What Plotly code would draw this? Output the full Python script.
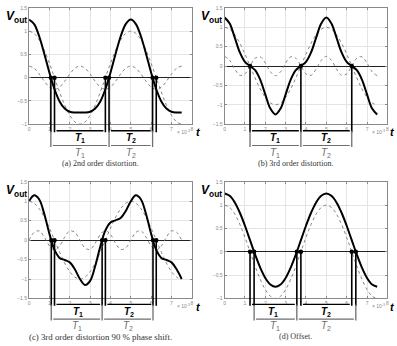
import plotly.graph_objects as go

W, H = 397, 346

# ---------------- data ----------------
t = [0.0, 0.25, 0.5, 0.75, 1.0, 1.25, 1.5, 1.75, 2.0, 2.25, 2.5, 2.75, 3.0, 3.25, 3.5, 3.75,
     4.0, 4.25, 4.5, 4.75, 5.0, 5.25, 5.5, 5.75, 6.0, 6.25, 6.5, 6.75, 7.0, 7.25, 7.5]

fund = [1.0, 0.951, 0.809, 0.588, 0.309, 0.0, -0.309, -0.588, -0.809, -0.951, -1.0, -0.951,
        -0.809, -0.588, -0.309, 0.0, 0.309, 0.588, 0.809, 0.951, 1.0, 0.951, 0.809, 0.588,
        0.309, 0.0, -0.309, -0.588, -0.809, -0.951, -1.0]

h2 = [0.25, 0.202, 0.077, -0.077, -0.202, -0.25, -0.202, -0.077, 0.077, 0.202, 0.25, 0.202,
      0.077, -0.077, -0.202, -0.25, -0.202, -0.077, 0.077, 0.202, 0.25, 0.202, 0.077, -0.077,
      -0.202, -0.25, -0.202, -0.077, 0.077, 0.202, 0.25]

h3 = [0.25, 0.147, -0.077, -0.238, -0.202, 0.0, 0.202, 0.238, 0.077, -0.147, -0.25, -0.147,
      0.077, 0.238, 0.202, 0.0, -0.202, -0.238, -0.077, 0.147, 0.25, 0.147, -0.077, -0.238,
      -0.202, 0.0, 0.202, 0.238, 0.077, -0.147, -0.25]

h3s = [0.0, 0.202, 0.238, 0.077, -0.147, -0.25, -0.147, 0.077, 0.238, 0.202, 0.0, -0.202,
       -0.238, -0.077, 0.147, 0.25, 0.147, -0.077, -0.238, -0.202, 0.0, 0.202, 0.238, 0.077,
       -0.147, -0.25, -0.147, 0.077, 0.238, 0.202, 0.0]

out_a = [1.25, 1.153, 0.886, 0.511, 0.107, -0.25, -0.511, -0.665, -0.732, -0.749, -0.75, -0.749,
         -0.732, -0.665, -0.511, -0.25, 0.107, 0.511, 0.886, 1.153, 1.25, 1.153, 0.886, 0.511,
         0.107, -0.25, -0.511, -0.665, -0.732, -0.749, -0.75]

out_b = [1.25, 1.098, 0.732, 0.35, 0.107, 0.0, -0.107, -0.35, -0.732, -1.098, -1.25, -1.098,
         -0.732, -0.35, -0.107, 0.0, 0.107, 0.35, 0.732, 1.098, 1.25, 1.098, 0.732, 0.35,
         0.107, 0.0, -0.107, -0.35, -0.732, -1.098, -1.25]

out_c = [1.0, 1.153, 1.047, 0.665, 0.162, -0.25, -0.456, -0.511, -0.571, -0.749, -1.0, -1.153,
         -1.047, -0.665, -0.162, 0.25, 0.456, 0.511, 0.571, 0.749, 1.0, 1.153, 1.047, 0.665,
         0.162, -0.25, -0.456, -0.511, -0.571, -0.749, -1.0]

out_d = [1.25, 1.201, 1.059, 0.838, 0.559, 0.25, -0.059, -0.338, -0.559, -0.701, -0.75, -0.701,
         -0.559, -0.338, -0.059, 0.25, 0.559, 0.838, 1.059, 1.201, 1.25, 1.201, 1.059, 0.838,
         0.559, 0.25, -0.059, -0.338, -0.559, -0.701, -0.75]

# zero crossings (t values) of the fundamental and of the output waveform
cross_fund = [1.25, 3.75, 6.25]
cross_a = [1.07, 3.93, 6.07]
cross_b = [1.25, 3.75, 6.25]
cross_c = [1.09, 3.59, 6.09]
cross_d = [1.45, 3.55, 6.45]

# arrow rows (start, end) in t
top_a = [(1.25, 3.75), (3.93, 6.07)]
bot_a = [(1.07, 3.93), (3.93, 6.07)]
top_b = [(1.25, 3.75), (3.75, 6.25)]
bot_b = [(1.25, 3.75), (3.75, 6.25)]
top_c = [(1.25, 3.59), (3.75, 6.09)]
bot_c = [(1.09, 3.59), (3.59, 6.09)]
top_d = [(1.25, 3.55), (3.75, 6.25)]
bot_d = [(1.45, 3.55), (3.55, 6.45)]

captions = ["(a) 2nd order distortion.", "(b) 3rd order distortion.",
            "(c) 3rd order distortion 90 % phase shift.", "(d) Offset."]
xticks = [0, 1, 2, 3, 4, 5, 6, 7, 8]

# ---------------- layout geometry (pixels) ----------------
panels = [
    dict(box=(28.3, 192.3, 5, 123.3), yr=[-1, 1.5], out=out_a, harm=h2, cross=cross_a + cross_fund,
         top=top_a, bot=bot_a, rows=(130, 145), cap_y=163.5, cap_x=100, cap_fs=8,
         tl=(199.5, 131.5), vl=(3, 4)),
    dict(box=(225.3, 389.3, 5, 123.3), yr=[-1.5, 1.5], out=out_b, harm=h3, cross=cross_b,
         top=top_b, bot=bot_b, rows=(130, 145), cap_y=163.5, cap_x=297, cap_fs=8,
         tl=(394.5, 131.5), vl=(200, 4)),
    dict(box=(28.3, 192.3, 182, 300.7), yr=[-1.5, 1.5], out=out_c, harm=h3s, cross=cross_c + cross_fund,
         top=top_c, bot=bot_c, rows=(306.7, 321.7), cap_y=339.5, cap_x=100, cap_fs=8.8,
         tl=(199.5, 309), vl=(3, 181)),
    dict(box=(225.3, 389.3, 182, 300.7), yr=[-1, 1.5], out=out_d, harm=None, cross=cross_d + cross_fund,
         top=top_d, bot=bot_d, rows=(306.7, 321.7), cap_y=339.5, cap_x=297, cap_fs=8,
         tl=(394.5, 309), vl=(200, 181)),
]

def px_x(p):
    return p / W

def px_y(p):
    return 1 - p / H

fig = go.Figure()
layout = dict(width=W, height=H, margin=dict(l=0, r=0, t=0, b=0), paper_bgcolor="white",
              plot_bgcolor="white", showlegend=False)
shapes, annotations = [], []

GRAY = "#6e6e6e"
DOT = "#777777"
HEAD = 5.5  # arrowhead marker size (px)

for i, p in enumerate(panels):
    n = "" if i == 0 else str(i + 1)
    xa, ya = "x" + n, "y" + n
    x0, x1, y0, y1 = p["box"]
    dx = [px_x(x0), px_x(x1)]
    dy = [px_y(y1), px_y(y0)]
    r0, r1 = p["yr"]
    t_per_px = 8.0 / (x1 - x0)

    def row_data(py):
        return r0 - (py - y1) / (y1 - y0) * (r1 - r0)

    ax_common = dict(showline=True, linecolor="#8a8a8a", linewidth=1, mirror="ticks",
                     ticks="inside", ticklen=2, tickcolor="#8a8a8a", showgrid=True,
                     gridcolor="#e4e4e4", gridwidth=0.6,
                     tickfont=dict(family="Liberation Sans", size=5, color="#888888"))
    layout["xaxis" + n] = dict(domain=dx, range=[0, 8], anchor=ya, tickvals=xticks,
                               zeroline=False, **ax_common)
    layout["yaxis" + n] = dict(domain=dy, range=p["yr"], anchor=xa, dtick=0.5,
                               zeroline=True, zerolinecolor="#222222", zerolinewidth=1,
                               **ax_common)

    fig.add_trace(go.Scatter(x=t, y=fund, mode="lines", xaxis=xa, yaxis=ya,
                             line=dict(color=DOT, width=0.9, dash="dot", shape="spline")))
    if p["harm"] is not None:
        fig.add_trace(go.Scatter(x=t, y=p["harm"], mode="lines", xaxis=xa, yaxis=ya,
                                 line=dict(color=DOT, width=0.9, dash="dot", shape="spline")))
    fig.add_trace(go.Scatter(x=t, y=p["out"], mode="lines", xaxis=xa, yaxis=ya,
                             line=dict(color="black", width=2, shape="spline")))

    # vertical drop lines
    zero_paper = dy[0] + (0 - r0) / (r1 - r0) * (dy[1] - dy[0])
    top_y = px_y(p["rows"][0])
    bot_y = px_y(p["rows"][1])
    bot_pts = set(v for pair in p["bot"] for v in pair)
    pts = sorted(set(p["cross"]))
    for c in pts:
        shapes.append(dict(type="line", xref=xa, yref="paper", x0=c, x1=c, y0=zero_paper,
                           y1=top_y - 1.5 / H, line=dict(color="black", width=1.6)))
        if c in bot_pts:
            shapes.append(dict(type="line", xref=xa, yref="paper", x0=c, x1=c, y0=top_y,
                               y1=bot_y - 1.5 / H, line=dict(color=GRAY, width=1.3)))

    fig.add_trace(go.Scatter(x=pts, y=[0] * len(pts), mode="markers", xaxis=xa, yaxis=ya,
                             cliponaxis=False, marker=dict(color="black", size=4.5)))

    # arrows: shaft as shape, heads as markers
    for row_px, pairs, col, bold in ((p["rows"][0], p["top"], "black", True),
                                     (p["rows"][1], p["bot"], GRAY, False)):
        ry = px_y(row_px)
        yd = row_data(row_px)
        lx, rx = [], []
        for k, (s, e) in enumerate(pairs):
            shapes.append(dict(type="line", xref=xa, yref="paper", x0=s + 2 * t_per_px,
                               x1=e - 2 * t_per_px, y0=ry, y1=ry,
                               line=dict(color=col, width=1.3 if bold else 1.1)))
            lx.append(s + 2.6 * t_per_px)
            rx.append(e - 2.6 * t_per_px)
            lab = "<i>T</i><sub>%d</sub>" % (k + 1)
            if bold:
                lab = "<b>" + lab + "</b>"
            annotations.append(dict(xref=xa, yref="paper", x=(s + e) / 2, y=px_y(row_px + 7.5),
                                    text=lab, showarrow=False, xanchor="center", yanchor="middle",
                                    font=dict(family="Liberation Sans", size=10, color=col)))
        fig.add_trace(go.Scatter(x=lx, y=[yd] * len(lx), mode="markers", xaxis=xa, yaxis=ya,
                                 cliponaxis=False,
                                 marker=dict(symbol="triangle-left", size=HEAD, color=col,
                                             line=dict(width=0))))
        fig.add_trace(go.Scatter(x=rx, y=[yd] * len(rx), mode="markers", xaxis=xa, yaxis=ya,
                                 cliponaxis=False,
                                 marker=dict(symbol="triangle-right", size=HEAD, color=col,
                                             line=dict(width=0))))

    # exponent label
    annotations.append(dict(xref="paper", yref="paper", x=px_x(x1), y=px_y(y1 + 3),
                            text="× 10<sup>-3</sup>", showarrow=False, xanchor="right", yanchor="top",
                            font=dict(family="Liberation Sans", size=5, color="#888888")))
    # V_out
    annotations.append(dict(xref="paper", yref="paper", x=px_x(p["vl"][0]), y=px_y(p["vl"][1]),
                            text="<b><i>V</i><sub>out</sub></b>", showarrow=False,
                            xanchor="left", yanchor="top",
                            font=dict(family="Liberation Sans", size=12, color="black")))
    # t label
    annotations.append(dict(xref="paper", yref="paper", x=px_x(p["tl"][0]), y=px_y(p["tl"][1]),
                            text="<b><i>t</i></b>", showarrow=False, xanchor="center", yanchor="middle",
                            font=dict(family="Liberation Sans", size=11, color="black")))
    # caption
    annotations.append(dict(xref="paper", yref="paper", x=px_x(p["cap_x"]), y=px_y(p["cap_y"]),
                            text=captions[i], showarrow=False, xanchor="center", yanchor="middle",
                            font=dict(family="Liberation Serif", size=p["cap_fs"], color="#333333")))

layout["shapes"] = shapes
layout["annotations"] = annotations
fig.update_layout(**layout)
fig.write_html("out.html")
